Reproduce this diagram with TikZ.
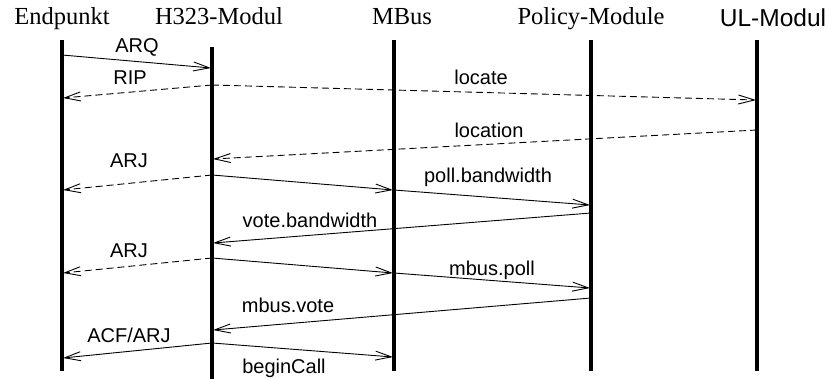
\documentclass[tikz,border=0pt]{standalone}
\usepackage{fontspec}
\setmainfont{Liberation Serif}
\setsansfont{Liberation Sans}
\usetikzlibrary{arrows.meta}
\tikzset{
  life/.style={line width=4pt},
  msg/.style={line width=0.9pt, -{Straight Barb[length=16pt,width=9pt,line width=0.9pt]}},
  reply/.style={msg, dash pattern=on 7pt off 4pt},
  title/.style={font=\fontsize{24.5}{28}\selectfont, anchor=base, inner sep=0pt},
  ultitle/.style={font=\sffamily\fontsize{24.5}{28}\selectfont, anchor=base, inner sep=0pt},
  lbl/.style={font=\sffamily\fontsize{20}{24}\selectfont, anchor=base, inner sep=0pt},
}
\begin{document}
\begin{tikzpicture}[x=1pt,y=-1pt]
\useasboundingbox (0,0) rectangle (829,379);

% lifeline heads
\node[title]   (tE) at (62,25)  {Endpunkt};
\node[title]   (tH) at (219,25) {H323-Modul};
\node[title]   (tM) at (402,25) {MBus};
\node[title]   (tP) at (591,25) {Policy-Module};
\node[ultitle] (tU) at (773,27) {UL-Modul};

% lifelines
\coordinate (E0) at (62,40);  \coordinate (E9) at (62,371);
\coordinate (H0) at (212,47); \coordinate (H9) at (212,379);
\coordinate (M0) at (394,40); \coordinate (M9) at (394,371);
\coordinate (P0) at (591,40); \coordinate (P9) at (591,371);
\coordinate (U0) at (757,40); \coordinate (U9) at (757,371);
\foreach \a/\b in {E0/E9,H0/H9,M0/M9,P0/P9,U0/U9}
  \draw[life] (\a) -- (\b);

% message end points
\coordinate (e1) at (62,55);   \coordinate (h1) at (211,68);
\coordinate (h2) at (212,85);  \coordinate (e2) at (63,98);
\coordinate (u2) at (756,100);
\coordinate (u3) at (757,130); \coordinate (h3) at (213,159);
\coordinate (h4) at (212,175); \coordinate (e4) at (63,190);
\coordinate (m4) at (393,190); \coordinate (m5) at (394,190);
\coordinate (p5) at (590,205);
\coordinate (p6) at (591,213); \coordinate (h6) at (213,243);
\coordinate (h7) at (212,258); \coordinate (e7) at (63,273);
\coordinate (m7) at (393,273); \coordinate (m8) at (394,273);
\coordinate (p8) at (590,288);
\coordinate (p9) at (591,298); \coordinate (h9) at (213,330);
\coordinate (h10) at (212,343); \coordinate (e10) at (63,358);
\coordinate (m10) at (393,357);

% messages
\draw[msg]   (e1) -- (h1);
\draw[reply] (h2) -- (e2);
\draw[reply] (h2) -- (u2);
\draw[reply] (u3) -- (h3);
\draw[reply] (h4) -- (e4);
\draw[msg]   (h4) -- (m4);
\draw[msg]   (m5) -- (p5);
\draw[msg]   (p6) -- (h6);
\draw[reply] (h7) -- (e7);
\draw[msg]   (h7) -- (m7);
\draw[msg]   (m8) -- (p8);
\draw[msg]   (p9) -- (h9);
\draw[msg]   (h10) -- (e10);
\draw[msg]   (h10) -- (m10);

% message labels
\node[lbl] (lARQ)  at (137,53)  {ARQ};
\node[lbl] (lRIP)  at (130,85)  {RIP};
\node[lbl] (lloc)  at (481,85)  {locate};
\node[lbl] (llocn) at (489,138) {location};
\node[lbl] (lARJa) at (129,168) {ARJ};
\node[lbl] (lpoll) at (488,183) {poll.bandwidth};
\node[lbl] (lvote) at (310,228) {vote.bandwidth};
\node[lbl] (lARJb) at (129,258) {ARJ};
\node[lbl] (lmpol) at (492,275) {mbus.poll};
\node[lbl] (lmvot) at (288,312) {mbus.vote};
\node[lbl] (lACF)  at (129,342) {ACF/ARJ};
\node[lbl] (lbeg)  at (284,373) {beginCall};
\end{tikzpicture}
\end{document}
